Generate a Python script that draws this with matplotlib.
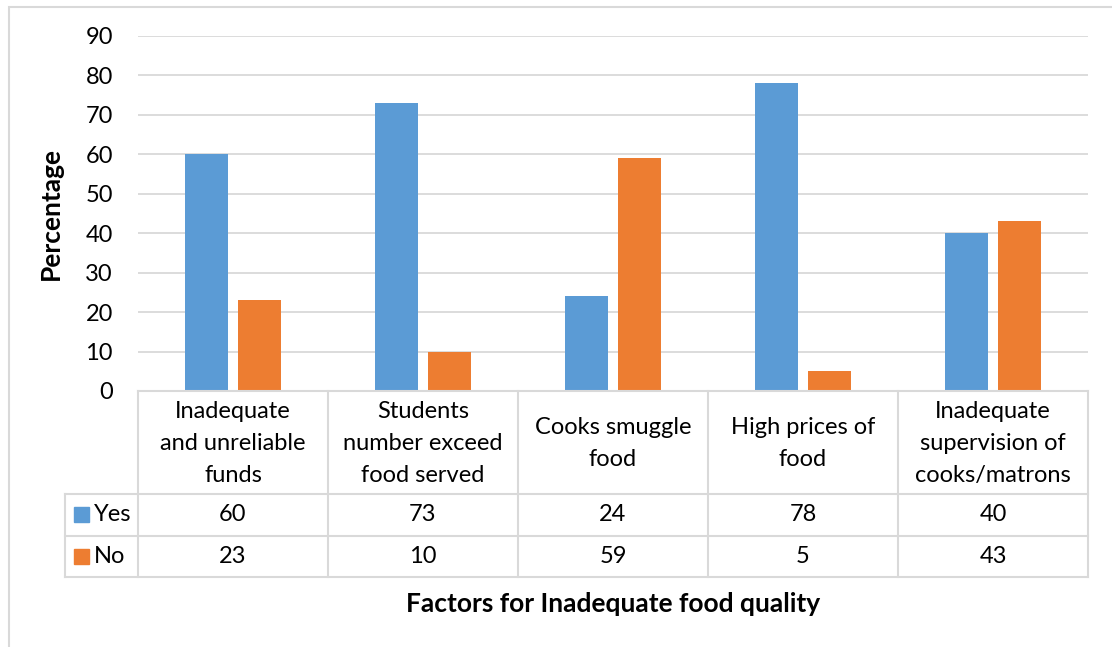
import matplotlib.pyplot as plt
from matplotlib.patches import Rectangle

plt.rcParams["font.family"] = ["Lato", "DejaVu Sans"]

categories = [
    "Inadequate\nand unreliable\nfunds",
    "Students\nnumber exceed\nfood served",
    "Cooks smuggle\nfood",
    "High prices of\nfood",
    "Inadequate\nsupervision of\ncooks/matrons",
]
yes_vals = [60, 73, 24, 78, 40]
no_vals = [23, 10, 59, 5, 43]
series_names = ["Yes", "No"]
colors = ["#5B9BD5", "#ED7D31"]
grid_col = "#D9D9D9"
fs = 17
fs_b = 19

W, H = 1112, 647
fig = plt.figure(figsize=(W / 100, H / 100), dpi=100)


def box(l, t, r, b):
    return [l / W, 1 - b / H, (r - l) / W, (b - t) / H]


# chart border (cut off at right/bottom like the reference)
fig.patches.append(Rectangle((9 / W, -0.1), 1.2, 1 - 7 / H + 0.1,
                             transform=fig.transFigure, fill=False,
                             edgecolor=grid_col, lw=1.5))

# ---- bar chart
ax = fig.add_axes(box(138, 36, 1088, 391))
x = range(len(categories))
w = 0.225
ax.bar([i - 0.14 for i in x], yes_vals, width=w, color=colors[0], zorder=3)
ax.bar([i + 0.14 for i in x], no_vals, width=w, color=colors[1], zorder=3)
ax.set_xlim(-0.5, len(categories) - 0.5)
ax.set_ylim(0, 90)
ax.set_yticks(range(0, 91, 10))
ax.set_xticks([])
ax.tick_params(axis="y", length=0, pad=18, labelsize=fs)
ax.grid(axis="y", color=grid_col, lw=1.3, zorder=0)
for s in ax.spines.values():
    s.set_visible(False)
ax.set_ylabel("Percentage", fontsize=fs_b, fontweight="bold", labelpad=16)

# ---- data table under the chart
n = len(categories)
leg_w = 73 / 190
tab = fig.add_axes(box(65, 391, 1088, 577))
tab.set_xlim(-0.5 - leg_w, n - 0.5)
hdr, row = 103, 41.5
tab.set_ylim(hdr + 2 * row, 0)
tab.axis("off")
lw = 1.5
# horizontal lines
tab.plot([-0.5, n - 0.5], [0, 0], color=grid_col, lw=lw, clip_on=False)
for yy in [hdr, hdr + row, hdr + 2 * row]:
    tab.plot([-0.5 - leg_w, n - 0.5], [yy, yy], color=grid_col, lw=lw, clip_on=False)
# vertical lines
for i in range(n + 1):
    tab.plot([i - 0.5, i - 0.5], [0, hdr + 2 * row], color=grid_col, lw=lw, clip_on=False)
tab.plot([-0.5 - leg_w] * 2, [hdr, hdr + 2 * row], color=grid_col, lw=lw, clip_on=False)

for i, lab in enumerate(categories):
    tab.text(i, hdr / 2 + 1, lab, ha="center", va="center", fontsize=fs,
             linespacing=1.62)
for r, (name, vals) in enumerate(zip(series_names, [yes_vals, no_vals])):
    yc = hdr + row * (r + 0.5)
    for i, v in enumerate(vals):
        tab.text(i, yc, str(v), ha="center", va="center", fontsize=fs)
    tab.add_patch(Rectangle((-0.5 - leg_w + 9 / 190, yc - 7.5), 15 / 190, 15,
                            color=colors[r], clip_on=False))
    tab.text(-0.5 - leg_w + 29 / 190, yc, name, ha="left", va="center", fontsize=fs)

fig.text(613 / W, 1 - 604 / H, "Factors for Inadequate food quality",
         ha="center", va="center", fontsize=fs_b, fontweight="bold")

fig.savefig("out.png", dpi=100)
